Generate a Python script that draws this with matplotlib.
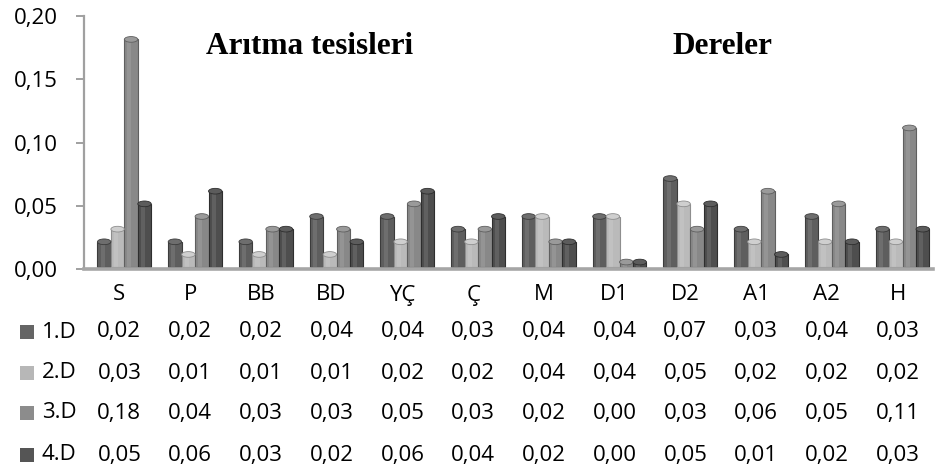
import matplotlib
matplotlib.use("Agg")
import matplotlib.pyplot as plt
from matplotlib.patches import Ellipse, Rectangle
from matplotlib import transforms
import numpy as np

categories = ["S", "P", "BB", "BD", "YÇ", "Ç", "M", "D1", "D2", "A1", "A2", "H"]
series_names = ["1.D", "2.D", "3.D", "4.D"]
d1 = [0.02, 0.02, 0.02, 0.04, 0.04, 0.03, 0.04, 0.04, 0.07, 0.03, 0.04, 0.03]
d2 = [0.03, 0.01, 0.01, 0.01, 0.02, 0.02, 0.04, 0.04, 0.05, 0.02, 0.02, 0.02]
d3 = [0.18, 0.04, 0.03, 0.03, 0.05, 0.03, 0.02, 0.004, 0.03, 0.06, 0.05, 0.11]
d4 = [0.05, 0.06, 0.03, 0.02, 0.06, 0.04, 0.02, 0.004, 0.05, 0.01, 0.02, 0.03]
series = [d1, d2, d3, d4]
yticks = [0.00, 0.05, 0.10, 0.15, 0.20]
group_titles = ["Arıtma tesisleri", "Dereler"]

colors = ["#5e5e5e", "#bababa", "#888888", "#4e4e4e"]
edge_colors = ["#3c3c3c", "#8e8e8e", "#5f5f5f", "#2e2e2e"]
cap_colors = ["#6e6e6e", "#cfcfcf", "#9a9a9a", "#5c5c5c"]
legend_colors = ["#656565", "#b7b7b7", "#8c8c8c", "#555555"]

W, H = 935, 470
fig = plt.figure(figsize=(W / 100, H / 100), dpi=100)
FONT = "Open Sans"
FS = 16

def fx(px):
    return px / W

def fy(py):
    return 1 - py / H

ax = fig.add_axes([fx(84), fy(269), fx(933) - fx(84), fy(16) - fy(269)])
ax.set_xlim(-0.5, len(categories) - 0.5)
ax.set_ylim(0, 0.20)

n = len(series)
bw = 0.19
offset = 0.07
x = np.arange(len(categories))
cap_h = 0.0045
lift = 0.0015
for k, vals in enumerate(series):
    xs = x + offset + (k - (n - 1) / 2) * bw
    ax.bar(xs, vals, width=bw, bottom=lift, color=colors[k],
           edgecolor=edge_colors[k], linewidth=0.8, zorder=2)
    ax.bar(xs - bw * 0.12, vals, width=bw * 0.3, bottom=lift, color="white",
           alpha=0.10, linewidth=0, zorder=3)
    for xi, v in zip(xs, vals):
        ax.add_patch(Ellipse((xi, v + lift), bw, cap_h, facecolor=cap_colors[k],
                             edgecolor=edge_colors[k], linewidth=0.6, zorder=4))

for s in ["top", "right"]:
    ax.spines[s].set_visible(False)
ax.spines["left"].set_color("#a0a0a0")
ax.spines["left"].set_linewidth(1.6)
ax.spines["bottom"].set_color("#a6a6a6")
ax.spines["bottom"].set_linewidth(2.6)
ax.set_xticks([])
ax.set_yticks(yticks)
ax.set_yticklabels([f"{v:.2f}".replace(".", ",") for v in yticks],
                   fontfamily=FONT, fontsize=FS)
ax.tick_params(axis="y", length=6, width=1.4, color="#a0a0a0", pad=13)
ax.patch.set_alpha(0)

ax.text(fx(310), fy(46), group_titles[0], transform=fig.transFigure,
        ha="center", va="center", fontfamily="Liberation Serif",
        fontweight="bold", fontsize=22.5)
ax.text(fx(722), fy(46), group_titles[1], transform=fig.transFigure,
        ha="center", va="center", fontfamily="Liberation Serif",
        fontweight="bold", fontsize=22.5)

trans = transforms.blended_transform_factory(ax.transData, fig.transFigure)
row_y = [295, 332, 373, 413, 455]
for i, c in enumerate(categories):
    fig.text(i, fy(row_y[0]), c, transform=trans, ha="center", va="center",
             fontfamily=FONT, fontsize=FS)
for k, vals in enumerate(series):
    yy = row_y[k + 1]
    fig.patches.append(Rectangle((fx(20), fy(yy + 7)), fx(14), 14 / H,
                                 transform=fig.transFigure,
                                 facecolor=legend_colors[k], edgecolor="none"))
    fig.text(fx(42), fy(yy), series_names[k], ha="left", va="center",
             fontfamily=FONT, fontsize=FS)
    for i, v in enumerate(vals):
        fig.text(i, fy(yy), f"{v:.2f}".replace(".", ","), transform=trans,
                 ha="center", va="center", fontfamily=FONT, fontsize=FS)

fig.savefig("out.png", dpi=100)
